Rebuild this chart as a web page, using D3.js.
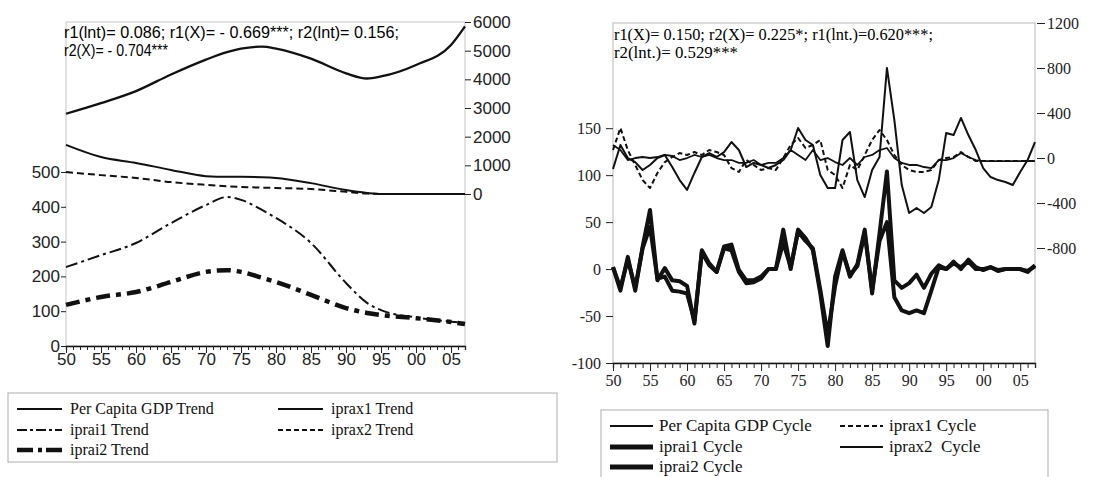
<!DOCTYPE html>
<html>
<head>
<meta charset="utf-8">
<script src="https://cdn.jsdelivr.net/npm/d3@7/dist/d3.min.js"></script>
<style>
  body { margin: 0; background: #fff; }
  svg { display: block; }
  .sans { font-family: "Liberation Sans", Arial, sans-serif; }
  .serif { font-family: "Liberation Serif", "Times New Roman", serif; }
</style>
</head>
<body>
<svg id="chart" width="1118" height="477"></svg>
<script>
// ---- data: trend panel (left) ----
const trendYears  = [1950, 1955, 1960, 1965, 1970, 1973, 1975, 1978, 1980, 1985, 1990, 1993, 1995, 2000, 2005, 2007];
const gdpTrend    = [2800, 3170, 3590, 4170, 4690, 4950, 5070, 5140, 5070, 4720, 4210, 4030, 4100, 4500, 5200, 5850];
const iprax1Trend = [578, 543, 526, 506, 488, 486, 486, 485, 483, 468, 448, 440, 437, 437, 437, 437];
const iprax2Trend = [500, 491, 483, 471, 463, 459, 457, 455, 454, 451, 443, 438, 437, 437, 437, 437];
const iprai1Trend = [227, 261, 296, 353, 405, 428, 420, 391, 368, 296, 181, 124, 103, 82, 70, 66];
const iprai2Trend = [118, 141, 155, 184, 213, 218, 213, 196, 184, 147, 109, 95, 89, 80, 69, 63];
const trendNames  = ["Per Capita GDP Trend", "iprax1 Trend", "iprai1 Trend", "iprax2 Trend", "iprai2 Trend"];

// ---- data: cycle panel (right), yearly 1950-2007 ----
const cycleYears = d3.range(1950, 2008);
const gdpCycle = [-98, 116, 0, -36, -107, -62, 0, 27, -80, -196, -284, -133, 9, 44, 9, 53, 142, 71, -80, -44,
                  -62, -89, -62, -18, 71, 267, 160, 116, -151, -267, -267, 160, 231, -196, -347, -107, 9, 800, 338, -240,
                  -489, -444, -489, -436, -196, 222, 204, 356, 204, 71, -89, -169, -196, -213, -240, -124, -18, 142];
const iprax1Cycle = [71, 267, 71, -62, -196, -267, -133, -36, 9, 44, 27, 53, 27, 71, 53, 27, -89, -124, -18, -62,
                     -107, -89, -107, 0, 116, 178, 89, 116, 160, -107, -151, -267, -62, -107, 27, 160, 249, 160, 27, -62,
                     -107, -124, -124, -107, -18, 0, 9, 53, 9, -27, -27, -27, -27, -27, -27, -27, -27, -27];
const iprax2Cycle = [116, 71, -18, 0, 9, 0, 9, 27, 18, -18, 0, 27, 9, 27, 0, -18, -18, -44, -44, -18,
                     -62, -44, -44, 0, 71, 27, -18, 71, -18, 0, -36, -62, 0, -62, 9, 27, 71, 89, 0, -44,
                     -62, -62, -80, -89, -18, -18, 0, 44, 9, -18, -27, -27, -27, -27, -27, -27, -27, -27];
const iprai1Cycle = [2, -23, 13, -23, 24, 63, -12, 1, -12, -13, -18, -58, 20, 6, -3, 24, 26, -1, -12, -12,
                     -8, 0, 0, 42, 0, 42, 33, 20, -26, -82, -8, 20, -8, 5, 42, -26, 38, 104, -12, -20,
                     -15, -6, -20, -5, 4, 0, 8, 0, 10, 2, -1, 2, -1, 0, 0, 0, -3, 4];
const iprai2Cycle = [2, -20, 10, -20, 22, 45, -10, -8, -23, -24, -26, -55, 18, 4, -3, 22, 20, -3, -15, -14,
                     -10, 0, 0, 28, 2, 40, 30, 22, -22, -70, -18, 18, -6, 3, 38, -22, 30, 50, -30, -44,
                     -47, -44, -47, -23, 2, 0, 6, 2, 8, 0, 0, 2, -2, 0, 0, 0, -2, 3];
const cycleNames = ["Per Capita GDP Cycle", "iprax1 Cycle", "iprai1 Cycle", "iprax2  Cycle", "iprai2 Cycle"];

// tick values
const trendLeftTicks  = [0, 100, 200, 300, 400, 500];
const trendRightTicks = [0, 1000, 2000, 3000, 4000, 5000, 6000];
const cycleLeftTicks  = [-100, -50, 0, 50, 100, 150];
const cycleRightTicks = [-800, -400, 0, 400, 800, 1200];

const plain = d => String(d);
const yearLabel = d => d % 5 === 0 ? String(d % 100).padStart(2, "0") : "";

const svg = d3.select("#chart");

// === Panel 1: trends ===
const x1  = d3.scaleLinear().domain([1950, 2007]).range([66, 465]);
const yL1 = d3.scaleLinear().domain([0, 931]).range([346, 22]);
const yR1 = d3.scaleLinear().domain([-5302, 6000]).range([346, 22]);
const g1 = svg.append("g").attr("class", "sans");

g1.append("rect")
  .attr("x", 66).attr("y", 22).attr("width", 399).attr("height", 324)
  .attr("fill", "none").attr("stroke", "#cfcfcf").attr("stroke-width", 1.2);

const trendLine = (yScale, values) =>
  d3.line().x((d, i) => x1(trendYears[i])).y(d => yScale(d)).curve(d3.curveMonotoneX)(values);

const trendSeries = [
  {v: gdpTrend, y: yR1, w: 2.3, dash: null},
  {v: iprax1Trend, y: yL1, w: 2, dash: null},
  {v: iprax2Trend, y: yL1, w: 2, dash: "7,4"},
  {v: iprai1Trend, y: yL1, w: 2, dash: "12,4,3,4"},
  {v: iprai2Trend, y: yL1, w: 4.5, dash: "14,6,5,6"}
];
trendSeries.forEach(s => {
  g1.append("path")
    .attr("d", trendLine(s.y, s.v))
    .attr("fill", "none").attr("stroke", "#111")
    .attr("stroke-width", s.w)
    .attr("stroke-dasharray", s.dash);
});

const axL1 = g1.append("g").attr("transform", "translate(66,0)")
  .call(d3.axisLeft(yL1).tickValues(trendLeftTicks).tickFormat(plain).tickSize(5).tickPadding(1));
const axR1 = g1.append("g").attr("transform", "translate(465,0)")
  .call(d3.axisRight(yR1).tickValues(trendRightTicks).tickFormat(plain).tickSize(6).tickPadding(2));
const axB1 = g1.append("g").attr("transform", "translate(0,346)")
  .call(d3.axisBottom(x1).tickValues(cycleYears).tickSize(4).tickFormat(yearLabel));
[axL1, axR1].forEach(a => a.select(".domain").remove());
axB1.select(".domain").attr("stroke", "#111").attr("stroke-width", 1.3);
axB1.selectAll(".tick line").attr("y2", d => d % 5 === 0 ? 7 : 4);
axB1.selectAll(".tick text").attr("y", 7).attr("dy", "0.71em");
[axL1, axR1, axB1].forEach(a => {
  a.selectAll("text").attr("font-size", 17).attr("fill", "#222").attr("font-family", "Liberation Sans, Arial, sans-serif");
  a.selectAll(".tick line").attr("stroke", "#222");
});

g1.append("text").attr("x", 64).attr("y", 38).attr("font-size", 16)
  .attr("textLength", 335).attr("lengthAdjust", "spacingAndGlyphs")
  .text("r1(lnt)= 0.086; r1(X)= - 0.669***; r2(lnt)= 0.156;");
g1.append("text").attr("x", 64).attr("y", 56).attr("font-size", 16)
  .attr("textLength", 104).attr("lengthAdjust", "spacingAndGlyphs")
  .text("r2(X)= - 0.704***");

// === Panel 2: cycles ===
const x2  = d3.scaleLinear().domain([1950, 2007]).range([613, 1035]);
const yL2 = d3.scaleLinear().domain([-100, 262]).range([363, 23]);
const yR2 = d3.scaleLinear().domain([-1822, 1200]).range([363, 23]);
const g2 = svg.append("g").attr("class", "serif");

g2.append("rect")
  .attr("x", 613).attr("y", 23).attr("width", 422).attr("height", 340)
  .attr("fill", "none").attr("stroke", "#c4c4c4").attr("stroke-width", 1.2);

const cycleLine = (yScale, values) =>
  d3.line().x((d, i) => x2(cycleYears[i])).y(d => yScale(d))(values);

const cycleSeries = [
  {v: iprai2Cycle, y: yL2, w: 4, dash: null},
  {v: iprai1Cycle, y: yL2, w: 4, dash: null},
  {v: iprax2Cycle, y: yR2, w: 1.8, dash: null},
  {v: iprax1Cycle, y: yR2, w: 2, dash: "5,3"},
  {v: gdpCycle, y: yR2, w: 2, dash: null}
];
cycleSeries.forEach(s => {
  g2.append("path")
    .attr("d", cycleLine(s.y, s.v))
    .attr("fill", "none").attr("stroke", "#111")
    .attr("stroke-width", s.w)
    .attr("stroke-linejoin", "round")
    .attr("stroke-dasharray", s.dash);
});

const axL2 = g2.append("g").attr("transform", "translate(613,0)")
  .call(d3.axisLeft(yL2).tickValues(cycleLeftTicks).tickFormat(plain).tickSize(7).tickPadding(5));
const axR2 = g2.append("g").attr("transform", "translate(1037,0)")
  .call(d3.axisRight(yR2).tickValues(cycleRightTicks).tickFormat(plain).tickSize(8).tickPadding(2));
const axB2 = g2.append("g").attr("transform", "translate(0,363)")
  .call(d3.axisBottom(x2).tickValues(cycleYears).tickSize(5).tickFormat(yearLabel));
[axL2, axR2].forEach(a => a.select(".domain").remove());
axB2.select(".domain").attr("stroke", "#111").attr("stroke-width", 1.3);
axB2.selectAll(".tick line").attr("y2", d => d % 5 === 0 ? 8 : 5);
axB2.selectAll(".tick text").attr("y", 12).attr("dy", "0.71em");
[axL2, axR2, axB2].forEach(a => {
  a.selectAll("text").attr("font-size", 16).attr("fill", "#222").attr("font-family", "Liberation Serif, Times New Roman, serif");
  a.selectAll(".tick line").attr("stroke", "#222");
});

g2.append("text").attr("x", 614).attr("y", 40).attr("font-size", 16)
  .attr("textLength", 319).attr("lengthAdjust", "spacingAndGlyphs")
  .text("r1(X)= 0.150; r2(X)= 0.225*; r1(lnt.)=0.620***;");
g2.append("text").attr("x", 614).attr("y", 58).attr("font-size", 16)
  .attr("textLength", 124).attr("lengthAdjust", "spacingAndGlyphs")
  .text("r2(lnt.)= 0.529***");

// === Legends ===
function createLegend(g, names, styles, box, pos) {
  g.append("rect")
    .attr("x", box.x).attr("y", box.y).attr("width", box.w).attr("height", box.h)
    .attr("fill", "none").attr("stroke", "#bbb").attr("stroke-width", 1.2);
  names.forEach((name, i) => {
    const col = i % 2, row = Math.floor(i / 2);
    const lx = pos.cols[col], ty = pos.rows[row];
    g.append("line")
      .attr("x1", lx).attr("x2", lx + pos.len)
      .attr("y1", ty - 5).attr("y2", ty - 5)
      .attr("stroke", "#111")
      .attr("stroke-width", styles[i].w)
      .attr("stroke-dasharray", styles[i].dash);
    g.append("text")
      .attr("x", lx + pos.len + pos.gap).attr("y", ty)
      .attr("font-size", pos.size).attr("fill", "#111")
      .style("white-space", "pre")
      .attr("font-family", "Liberation Serif, Times New Roman, serif")
      .text(name);
  });
}

createLegend(svg.append("g"), trendNames,
  [{w: 2, dash: null}, {w: 2, dash: null}, {w: 2, dash: "10,3,3,3"}, {w: 2, dash: "5,3"}, {w: 4.5, dash: "16,5,4,4"}],
  {x: 8, y: 393, w: 549, h: 69},
  {cols: [17, 278], rows: [414, 435, 455], len: 45, gap: 8, size: 16});

createLegend(svg.append("g"), cycleNames,
  [{w: 2, dash: null}, {w: 2, dash: "5,3"}, {w: 5, dash: null}, {w: 2, dash: null}, {w: 5, dash: null}],
  {x: 601, y: 410, w: 447, h: 80},
  {cols: [610, 840], rows: [431, 452, 472], len: 43, gap: 6, size: 17});
</script>
</body>
</html>
